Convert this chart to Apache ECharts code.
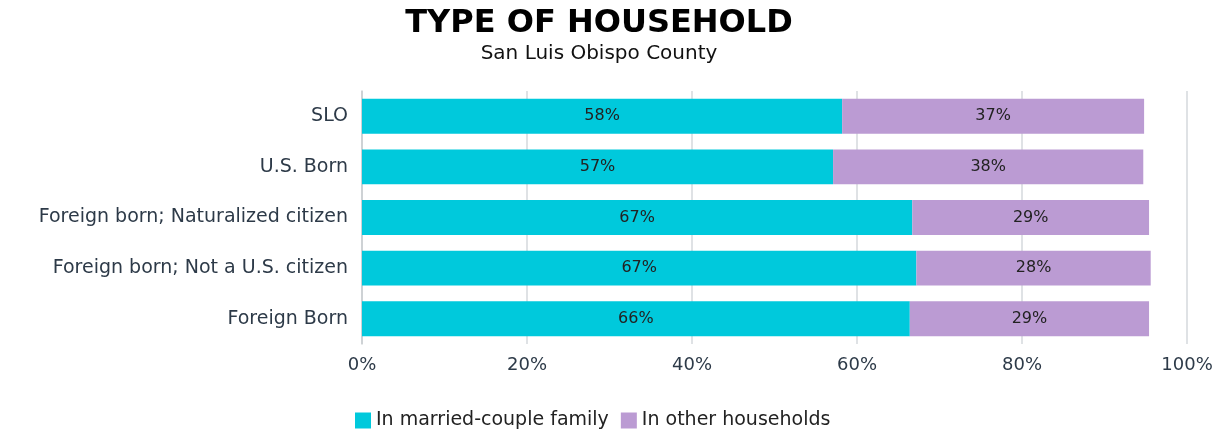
<!DOCTYPE html>
<html>
<head>
<meta charset="utf-8">
<script src="https://cdn.jsdelivr.net/npm/echarts@6/dist/echarts.min.js"></script>
<style>
  html, body { margin: 0; padding: 0; background: #fff; }
  #chart { width: 1225px; height: 430px; }
</style>
</head>
<body>
<div id="chart"></div>
<script>
var categories = ['SLO', 'U.S. Born', 'Foreign born; Naturalized citizen', 'Foreign born; Not a U.S. citizen', 'Foreign Born'];
var married = [58.2, 57.1, 66.7, 67.2, 66.4];
var other = [36.6, 37.6, 28.7, 28.4, 29.0];
var seriesNames = ['In married-couple family', 'In other households'];

(function() {
  var myChart = echarts.init(document.getElementById('chart'));
  var font = '"DejaVu Sans", sans-serif';

  function barLabel() {
    return {
      show: true,
      position: 'inside',
      color: '#222',
      fontSize: 16,
      fontFamily: font,
      formatter: function(p) { return Math.round(p.value) + '%'; }
    };
  }

  var option = {
    animation: false,
    title: {
      text: 'TYPE OF HOUSEHOLD',
      subtext: 'San Luis Obispo County',
      left: 594,
      textAlign: 'center',
      top: 3,
      itemGap: 4,
      textStyle: { fontFamily: font, fontWeight: 'bold', fontSize: 32, color: '#000' },
      subtextStyle: { fontFamily: font, fontSize: 20, color: '#111' }
    },
    legend: {
      data: seriesNames,
      top: 406,
      left: 350,
      itemWidth: 16,
      itemHeight: 16,
      itemGap: 12,
      icon: 'rect',
      textStyle: { fontFamily: font, fontSize: 19, color: '#222' }
    },
    grid: { left: 362, right: 38, top: 91, bottom: 86 },
    xAxis: {
      type: 'value',
      min: 0,
      max: 100,
      interval: 20,
      axisLabel: {
        formatter: '{value}%',
        color: '#2d3a48',
        fontFamily: font,
        fontSize: 18,
        margin: 12
      },
      axisLine: { show: false },
      axisTick: { show: false },
      splitLine: { lineStyle: { color: '#d4d8dc', width: 1.5 } }
    },
    yAxis: {
      type: 'category',
      inverse: true,
      data: categories,
      axisLine: { show: true, lineStyle: { color: '#c8ccd0', width: 1.5 } },
      axisTick: { show: false },
      axisLabel: { color: '#2d3a48', fontFamily: font, fontSize: 19, margin: 14 }
    },
    series: [
      {
        name: seriesNames[0],
        type: 'bar',
        stack: 'total',
        barCategoryGap: '31%',
        itemStyle: { color: '#00c9dc' },
        label: barLabel(),
        data: married
      },
      {
        name: seriesNames[1],
        type: 'bar',
        stack: 'total',
        itemStyle: { color: '#bb9bd3' },
        label: barLabel(),
        data: other
      }
    ]
  };
  myChart.setOption(option);
  window.addEventListener('resize', function() {
    myChart.resize();
  });
})();
</script>
</body>
</html>
